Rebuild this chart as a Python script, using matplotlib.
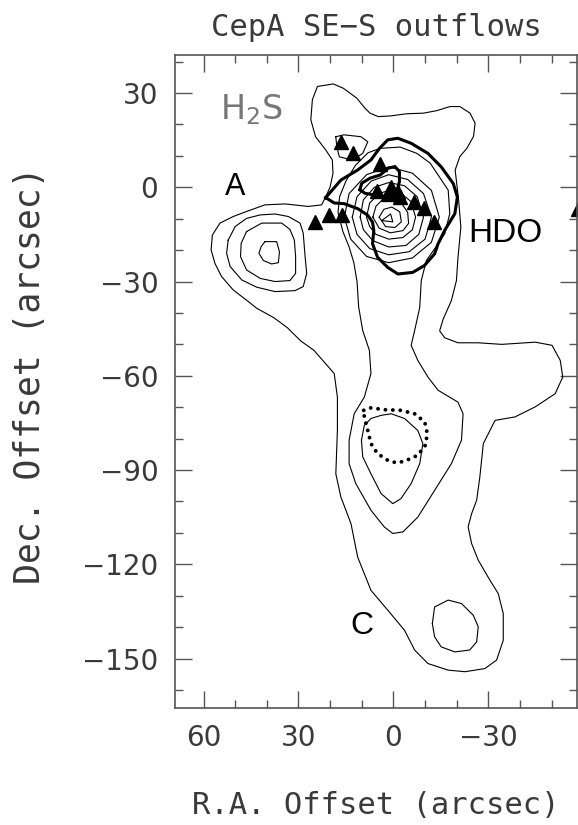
import matplotlib
matplotlib.use("Agg")
import matplotlib.pyplot as plt
from matplotlib.ticker import MultipleLocator

# offsets in arcsec: (R.A., Dec.)
h2s_outer = [
    (21.4, -3.1), (20.0, 0.1), (19.1, 4.4), (19.3, 8.7), (21.4, 11.9),
    (24.6, 16.1), (26.1, 21.5), (25.6, 27.9), (24.0, 32.1), (19.0, 32.9),
    (15.8, 31.5), (11.6, 28.4), (9.0, 25.2), (7.4, 23.6), (4.8, 22.5),
    (1.1, 22.7), (-4.2, 23.4), (-9.5, 23.6), (-13.7, 24.4), (-17.9, 25.7),
    (-21.0, 25.7), (-24.2, 23.6), (-25.8, 20.4), (-25.3, 16.2), (-23.2, 12.4),
    (-21.0, 9.8), (-19.5, 5.5), (-20.6, -4.1), (-21.3, -12.7), (-20.4, -22.3),
    (-19.9, -29.7), (-18.3, -36.1), (-15.7, -42.0), (-14.6, -45.7),
    (-16.2, -47.9), (-20.4, -49.5), (-26.8, -49.5), (-34.2, -50.0),
    (-44.8, -49.3), (-50.1, -50.3), (-52.7, -55.1), (-53.5, -60.4),
    (-51.1, -65.7), (-44.8, -69.9), (-38.4, -73.1), (-32.1, -74.2),
    (-28.4, -81.6), (-27.3, -92.2), (-26.3, -99.6), (-24.7, -103.9),
    (-23.6, -108.1), (-24.7, -113.4), (-26.8, -118.7), (-30.5, -125.1),
    (-33.1, -129.3), (-34.7, -135.7), (-34.7, -144.2), (-32.6, -150.5),
    (-28.9, -153.2), (-22.6, -154.2), (-17.3, -153.7), (-10.9, -151.6),
    (-6.7, -147.3), (-3.5, -141.0), (1.8, -134.6), (7.1, -128.3),
    (11.3, -117.7), (13.4, -107.1), (16.6, -98.6), (18.2, -91.2),
    (17.7, -77.4), (17.7, -66.8), (18.7, -59.3), (25.1, -51.9),
    (29.3, -48.9), (33.5, -44.7), (37.8, -41.5), (43.2, -38.5), (45.8, -36.4),
    (50.6, -32.7), (54.3, -28.4), (56.4, -24.2), (57.6, -19.9), (57.2, -15.2),
    (54.8, -11.4), (50.6, -9.3), (46.4, -7.7), (40.6, -5.6), (34.2, -5.3),
    (26.9, -6.1), (22.7, -5.6),
]

h2s_ridge = [
    (4.2, 12.4), (8.0, 11.0), (12.0, 7.0), (15.0, 2.0), (17.0, -3.0),
    (17.5, -8.0), (16.0, -14.0), (14.0, -19.0), (12.5, -24.0), (11.5, -30.0),
    (11.0, -38.0), (9.7, -45.6), (7.6, -51.9), (7.1, -59.3), (9.2, -66.8),
    (12.4, -72.1), (14.0, -80.5), (14.0, -88.0), (11.9, -94.3), (7.1, -102.8),
    (2.9, -108.1), (0.2, -110.2), (-3.0, -109.7), (-7.7, -105.0),
    (-13.0, -96.5), (-18.3, -88.0), (-21.5, -80.5), (-22.0, -72.1),
    (-20.4, -68.4), (-14.1, -64.6), (-10.9, -60.4), (-7.7, -55.1),
    (-5.6, -50.3), (-6.7, -45.6), (-8.3, -38.3), (-8.8, -29.7),
    (-10.4, -23.3), (-13.0, -19.6), (-16.2, -14.8), (-17.8, -8.4),
    (-17.3, -0.9), (-11.6, 7.7), (-7.4, 10.8), (-2.1, 12.8),
]

h2s_nw = [
    (18.2, 16.1), (15.6, 16.7), (10.3, 16.1), (8.1, 14.5), (9.7, 10.8),
    (12.9, 8.7), (17.1, 9.7), (17.9, 13.0),
]

# source A
h2s_a = [
    [(52.2, -16.8), (50.0, -12.5), (46.4, -9.9), (42.1, -8.8), (37.4, -8.5),
     (33.2, -9.3), (29.5, -11.4), (28.5, -14.6), (27.9, -22.1), (27.4, -27.4),
     (28.5, -31.6), (31.1, -32.9), (37.4, -33.2), (43.2, -31.8), (47.9, -29.5),
     (51.6, -25.2), (52.7, -21.0)],
    [(46.4, -14.1), (41.6, -11.4), (35.3, -11.4), (32.7, -13.4), (31.3, -16.8),
     (30.9, -22.1), (30.9, -27.4), (32.7, -29.7), (37.4, -30.0), (42.1, -29.0),
     (46.4, -26.3), (48.3, -22.1), (48.1, -17.8)],
    [(40.6, -17.3), (36.9, -17.3), (36.0, -20.5), (36.35, -24.0), (38.5, -24.4),
     (41.1, -23.3), (42.5, -21.0), (41.8, -18.9)],
]

# central peak
h2s_core = [
    [(15.5, -9.5), (14.0, -2.0), (8.5, 4.0), (1.5, 6.5), (-6.0, 4.5),
     (-12.0, -1.0), (-14.5, -9.5), (-12.0, -17.5), (-6.0, -22.5), (1.5, -24.0),
     (8.5, -22.0), (13.5, -16.5)],
    [(13.0, -9.5), (11.5, -3.0), (7.0, 2.0), (1.5, 4.0), (-4.5, 2.5),
     (-9.5, -2.0), (-12.0, -9.5), (-10.0, -16.5), (-5.0, -20.5), (1.5, -21.5),
     (7.5, -19.5), (11.5, -15.0)],
    [(10.5, -9.5), (9.5, -4.0), (6.0, 0.0), (1.5, 1.5), (-3.5, 0.5),
     (-7.5, -3.0), (-9.5, -9.5), (-8.0, -15.0), (-4.0, -18.5), (1.5, -19.0),
     (6.5, -17.0), (9.5, -13.5)],
    [(8.5, -9.5), (7.5, -5.0), (4.5, -2.0), (1.5, -1.0), (-2.5, -2.0),
     (-5.5, -4.5), (-7.0, -9.5), (-6.0, -13.5), (-3.0, -16.0), (1.5, -16.5),
     (5.5, -15.0), (7.5, -12.5)],
    [(6.5, -9.5), (5.5, -6.0), (3.5, -4.0), (0.5, -3.8), (-2.5, -5.0),
     (-4.5, -8.0), (-4.8, -11.5), (-3.0, -13.8), (1.0, -14.5), (4.5, -13.0)],
    [(4.5, -9.5), (3.0, -7.0), (0.5, -6.3), (-2.0, -7.8), (-2.5, -11.0),
     (-0.5, -12.8), (2.5, -12.5)],
    [(3.7, -10.6), (0.9, -8.5), (0.2, -11.0)],
]

# southern knots
h2s_south = [
    [(10.1, -80.5), (9.2, -75.8), (7.1, -73.6), (3.9, -72.6), (0.7, -72.1),
     (-3.5, -73.6), (-7.7, -77.4), (-9.3, -81.6), (-8.3, -88.0), (-5.6, -94.3),
     (-2.4, -99.1), (0.2, -100.7), (3.9, -97.5), (7.1, -91.2), (9.7, -85.8)],
    [(-12.3, -138.9), (-13.0, -133.6), (-17.3, -131.4), (-21.5, -132.5),
     (-25.2, -136.2), (-26.8, -139.9), (-26.3, -144.7), (-24.1, -147.3),
     (-19.4, -147.9), (-15.1, -146.3), (-13.0, -143.1)],
]

hdo_outer = [
    (21.4, -3.3), (16.6, 2.3), (11.3, 5.5), (7.1, 8.7), (4.4, 12.4), (1.8, 15.1),
    (-1.4, 15.6), (-5.6, 14.0), (-10.9, 10.8), (-15.1, 6.5), (-18.9, 1.2),
    (-20.2, -3.1), (-19.4, -8.4), (-16.2, -13.7), (-14.1, -18.0), (-13.0, -21.2),
    (-9.8, -24.9), (-6.1, -27.1), (-1.4, -27.6), (1.8, -25.5), (5.0, -22.3),
    (6.6, -18.0), (6.2, -13.7), (6.6, -11.1), (8.1, -8.9), (11.3, -6.8),
    (15.6, -5.2), (18.7, -5.0),
]
hdo_inner = [
    (10.6, -0.8), (10.0, 1.3), (7.4, 2.9), (4.2, 3.9), (1.6, 6.1), (-0.5, 6.6),
    (-1.9, 5.0), (-1.9, 1.8), (-1.2, -0.8), (2.1, -3.0), (6.3, -2.4), (9.0, -1.9),
]

# dotted outline south of the core
knot_outline = [
    (9.4, -71.0), (7.1, -70.2), (2.9, -70.8), (-2.4, -71.0), (-6.7, -72.1),
    (-9.9, -74.7), (-10.7, -78.4), (-10.1, -82.1), (-7.7, -85.3), (-3.5, -87.2),
    (-0.9, -87.7), (1.8, -86.9), (5.0, -84.8), (7.1, -81.6), (8.1, -77.4),
    (9.2, -73.1),
]

# young stellar objects
yso_ra = [16.6, 12.9, 4.1, 5.2, 0.7, 1.8, -1.4, -2.2, -6.4, -9.6, -12.8,
          24.9, 20.5, 16.1, -58.3]
yso_dec = [14.5, 11.0, 7.4, -1.1, 0.1, -2.0, -1.5, -3.1, -4.7, -6.5, -11.1,
           -11.1, -8.9, -8.9, -6.9]


def closed(pts):
    xs = [p[0] for p in pts] + [pts[0][0]]
    ys = [p[1] for p in pts] + [pts[0][1]]
    return xs, ys


plt.rcParams["font.family"] = ["DejaVu Sans"]
fig = plt.figure(figsize=(5.78, 8.25), dpi=100)
ax = fig.add_axes([0.3028, 0.1424, 0.6955, 0.7909])

thin = dict(color="black", lw=0.8)
for c in [h2s_outer, h2s_ridge, h2s_nw] + h2s_a + h2s_core + h2s_south:
    ax.plot(*closed(c), **thin)

ax.plot(*closed(hdo_outer), color="black", lw=2.2)
ax.plot(*closed(hdo_inner), color="black", lw=2.2)
ax.plot(*closed(knot_outline), color="black", lw=2.8, ls=(0, (0.01, 1.9)),
        dash_capstyle="round")

ax.plot(yso_ra, yso_dec, ls="none", marker="^", ms=9.5, color="black",
        clip_on=False)

ax.text(54.8, 21.5, "H$_2$S", fontsize=24, color="#777777", ha="left",
        va="baseline")
lab = dict(family=["Liberation Sans", "DejaVu Sans"], color="black",
           ha="center", va="center")
ax.text(50.0, 0.1, "A", fontsize=22, **lab)
ax.text(-35.3, -14.8, "HDO", fontsize=24, **lab)
ax.text(9.9, -139.7, "C", fontsize=23, **lab)

ax.set_xlim(69, -58)
ax.set_ylim(-165.6, 42.1)
ax.set_xticks([60, 30, 0, -30])
ax.set_yticks([30, 0, -30, -60, -90, -120, -150])
ax.xaxis.set_minor_locator(MultipleLocator(10))
ax.yaxis.set_minor_locator(MultipleLocator(10))
ax.tick_params(which="both", direction="in", top=True, right=True,
               color="#555555", width=1.0, labelsize=20, labelcolor="#3a3a3a")
ax.tick_params(which="major", length=12.5, pad=12)
ax.tick_params(which="minor", length=6)
for s in ax.spines.values():
    s.set_color("#555555")
    s.set_linewidth(1.2)

mono = ["DejaVu Sans Mono", "DejaVu Sans"]
ax.set_title("CepA SE\u2212S outflows", fontsize=22, family=mono,
             color="#3a3a3a", pad=14)
fig.text(376 / 578, 1 - 805 / 825, "R.A. Offset (arcsec)", fontsize=22,
         family=mono, color="#3a3a3a", ha="center", va="center")
fig.text(30 / 578, 1 - 375 / 825, "Dec. Offset (arcsec)", fontsize=25,
         family=mono, color="#3a3a3a", ha="center", va="center", rotation=90)

fig.savefig("out.png", dpi=100)
